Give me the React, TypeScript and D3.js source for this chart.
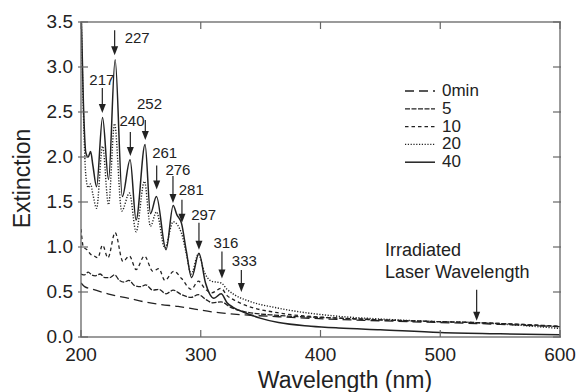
import React from 'react';
import * as d3 from 'd3';

// ---------- data ----------
const xTicks = [200, 300, 400, 500, 600];
const yTicks = [0, 0.5, 1.0, 1.5, 2.0, 2.5, 3.0, 3.5];

const wl0 = [200, 203, 210, 225, 240, 253, 267, 281, 295, 309, 323, 337, 365, 415, 450, 500, 530, 550, 600];
const ext0 = [0.6, 0.56, 0.53, 0.47, 0.43, 0.39, 0.36, 0.34, 0.31, 0.28, 0.26, 0.245, 0.225, 0.195, 0.18, 0.16, 0.15, 0.14, 0.115];

const wl5 = [200, 203, 206, 209, 212, 216, 220, 224, 228, 232, 236, 240, 245, 250, 254, 260, 265, 271, 277, 284, 292, 298, 305, 310, 317, 325, 337, 365, 415, 450, 500, 530, 550, 600];
const ext5 = [0.7, 0.69, 0.72, 0.69, 0.68, 0.7, 0.66, 0.66, 0.69, 0.63, 0.61, 0.63, 0.57, 0.56, 0.58, 0.52, 0.53, 0.48, 0.52, 0.47, 0.44, 0.47, 0.41, 0.38, 0.39, 0.33, 0.28, 0.24, 0.21, 0.19, 0.17, 0.16, 0.15, 0.115];

const wl10 = [200, 202, 205, 208, 211, 214, 218, 222.5, 228.5, 235, 240.5, 246, 253, 260, 265, 270, 277.5, 284, 292, 298, 304, 309, 317, 322, 328, 340, 364, 415, 450, 500, 530, 550, 600];
const ext10 = [1.2, 1.0, 0.97, 0.92, 0.9, 0.88, 1.02, 0.88, 1.16, 0.84, 0.9, 0.75, 0.9, 0.73, 0.76, 0.63, 0.73, 0.65, 0.53, 0.62, 0.53, 0.49, 0.54, 0.46, 0.41, 0.34, 0.27, 0.21, 0.19, 0.17, 0.16, 0.15, 0.12];

const wl20 = [200, 202, 204, 206, 208, 210, 213, 218, 223, 228, 234, 240.5, 246, 253, 258, 263, 270, 277, 284, 288, 292, 298, 303, 309, 317, 322, 328, 340, 365, 415, 450, 500, 530, 550, 600];
const ext20 = [3.7, 2.5, 1.8, 1.66, 1.7, 1.58, 1.43, 2.12, 1.47, 2.37, 1.4, 1.6, 1.17, 1.73, 1.23, 1.39, 0.99, 1.28, 1.15, 0.92, 0.7, 0.92, 0.72, 0.62, 0.6, 0.53, 0.47, 0.4, 0.32, 0.23, 0.2, 0.17, 0.16, 0.145, 0.095];

const wl40 = [200, 202, 204, 206, 208, 210, 213, 218, 223, 228.5, 234.5, 241, 246, 253.5, 258, 263, 271, 277, 280, 284, 288, 292.4, 298.5, 304, 311, 317, 322, 327, 337, 349.5, 365, 392, 415, 450, 500, 550, 600];
const ext40 = [3.7, 2.6, 2.05, 2.0, 2.06, 1.9, 1.67, 2.44, 1.75, 3.08, 1.56, 1.97, 1.3, 2.14, 1.37, 1.56, 0.97, 1.46, 1.36, 1.26, 0.95, 0.66, 0.93, 0.6, 0.43, 0.48, 0.38, 0.33, 0.27, 0.21, 0.16, 0.12, 0.1, 0.08, 0.05, 0.035, 0.025];

const seriesNames = ['0min', '5', '10', '20', '40'];
const seriesWl = [wl0, wl5, wl10, wl20, wl40];
const seriesExt = [ext0, ext5, ext10, ext20, ext40];

// annotation arrows: label, wavelength, extinction at arrow tip
const peakLabels = ['227', '217', '240', '252', '261', '276', '281', '297', '316', '333'];
const peakWl = [228.1, 217.8, 241.2, 253.7, 263.2, 276.8, 284.3, 298.5, 317.7, 333.9];
const peakTip = [3.13, 2.49, 2.01, 2.19, 1.64, 1.49, 1.27, 0.97, 0.65, 0.5];

const laserWl = 530.4;
const laserTip = 0.18;
const laserText = ['Irradiated', 'Laser Wavelength'];

// ---------- layout / styles ----------
const W = 576;
const H = 392;
const PL = 81, PR = 560, PT = 22, PB = 337;
const FONT = "'Liberation Sans', Arial, Helvetica, sans-serif";
const TXT = '#222';
const AXC = '#666';
const dashes = ['9,5', '5,1.5', '3.5,3', '1.2,1.6', ''];
const widths = [1.3, 1.3, 1.3, 1.4, 1.5];
// arrow length (px), label dx (from arrow), label baseline dy (from arrow top)
const arrowLen = [25, 25, 24, 20, 24, 27, 23, 27, 27, 22];
const labelDx = [22.5, -0.5, 1.7, 4.2, 8, 5, 9.3, 4.7, 4, 3];
const labelDy = [12.7, -3, -5.7, -11, -7.7, -0.7, -5, -3, -4, -4];

export default function App() {
  const x = d3.scaleLinear().domain([200, 600]).range([PL, PR]);
  const y = d3.scaleLinear().domain([0, 3.5]).range([PB, PT]);

  const line = d3
    .line<[number, number]>()
    .x((d) => x(d[0]))
    .y((d) => y(d[1]))
    .curve(d3.curveMonotoneX);

  const arrow = (ax: number, tipY: number, len: number, key: string) => (
    <g key={key}>
      <line x1={ax} x2={ax} y1={tipY - len} y2={tipY - 7} stroke={TXT} strokeWidth={1.2} />
      <path d={`M${ax},${tipY} L${ax - 3.5},${tipY - 9} L${ax + 3.5},${tipY - 9} Z`} fill={TXT} />
    </g>
  );

  const legendX0 = 405, legendX1 = 435, legendTextX = 442, legendY0 = 96, legendStep = 17.8;

  return (
    <svg
      width={W}
      height={H}
      viewBox={`0 0 ${W} ${H}`}
      style={{ position: 'absolute', left: 0, top: 0, background: '#fff' }}
      fontFamily={FONT}
    >
      <defs>
        <clipPath id="plotclip">
          <rect x={PL} y={PT} width={PR - PL} height={PB - PT} />
        </clipPath>
      </defs>
      <rect x={0} y={0} width={W} height={H} fill="#fff" />

      {/* curves */}
      <g clipPath="url(#plotclip)">
        {seriesNames.map((n, i) => {
          const pts = seriesWl[i].map((w, j) => [w, seriesExt[i][j]] as [number, number]);
          return (
            <path
              key={n}
              d={line(pts) || ''}
              fill="none"
              stroke="#222"
              strokeWidth={widths[i]}
              strokeDasharray={dashes[i] || undefined}
            />
          );
        })}
      </g>

      {/* frame */}
      <rect x={PL} y={PT} width={PR - PL} height={PB - PT} fill="none" stroke={AXC} strokeWidth={1.3} />

      {/* ticks */}
      {xTicks.map((t) => (
        <g key={'xt' + t}>
          <line x1={x(t)} x2={x(t)} y1={PB} y2={PB - 7} stroke={AXC} strokeWidth={1.2} />
          <line x1={x(t)} x2={x(t)} y1={PT} y2={PT + 7} stroke={AXC} strokeWidth={1.2} />
          <text x={x(t)} y={360.5} textAnchor="middle" fontSize={19} fill={TXT}>
            {t}
          </text>
        </g>
      ))}
      {yTicks.map((t) => (
        <g key={'yt' + t}>
          <line x1={PL - 3} x2={PL + 7} y1={y(t)} y2={y(t)} stroke={AXC} strokeWidth={1.2} />
          <line x1={PR - 7} x2={PR + 1} y1={y(t)} y2={y(t)} stroke={AXC} strokeWidth={1.2} />
          <text x={73} y={y(t) + 5.5} textAnchor="end" fontSize={19} fill={TXT}>
            {t.toFixed(1)}
          </text>
        </g>
      ))}

      {/* axis titles */}
      <text x={345} y={388} textAnchor="middle" fontSize={23} fill={TXT}>
        Wavelength (nm)
      </text>
      <text
        transform={`translate(30, ${(PT + PB) / 2 - 1}) rotate(-90)`}
        textAnchor="middle"
        fontSize={23}
        fill={TXT}
      >
        Extinction
      </text>

      {/* peak annotations */}
      {peakLabels.map((lab, i) => {
        const ax = x(peakWl[i]);
        const tipY = y(peakTip[i]);
        const top = tipY - arrowLen[i];
        return (
          <g key={'pk' + lab}>
            {arrow(ax, tipY, arrowLen[i], 'a' + lab)}
            <text x={ax + labelDx[i]} y={top + labelDy[i]} textAnchor="middle" fontSize={15} fill={TXT}>
              {lab}
            </text>
          </g>
        );
      })}

      {/* laser annotation */}
      {arrow(x(laserWl), y(laserTip), 31, 'laser')}
      <text x={385} y={256} fontSize={18} fill={TXT}>
        {laserText[0]}
      </text>
      <text x={385} y={278} fontSize={18} fill={TXT}>
        {laserText[1]}
      </text>

      {/* legend */}
      {seriesNames.map((n, i) => {
        const ly = legendY0 + i * legendStep;
        return (
          <g key={'lg' + n}>
            <line
              x1={legendX0}
              x2={legendX1}
              y1={ly - 5}
              y2={ly - 5}
              stroke="#222"
              strokeWidth={widths[i]}
              strokeDasharray={dashes[i] || undefined}
            />
            <text x={legendTextX} y={ly} fontSize={17} fill={TXT}>
              {n}
            </text>
          </g>
        );
      })}
    </svg>
  );
}
